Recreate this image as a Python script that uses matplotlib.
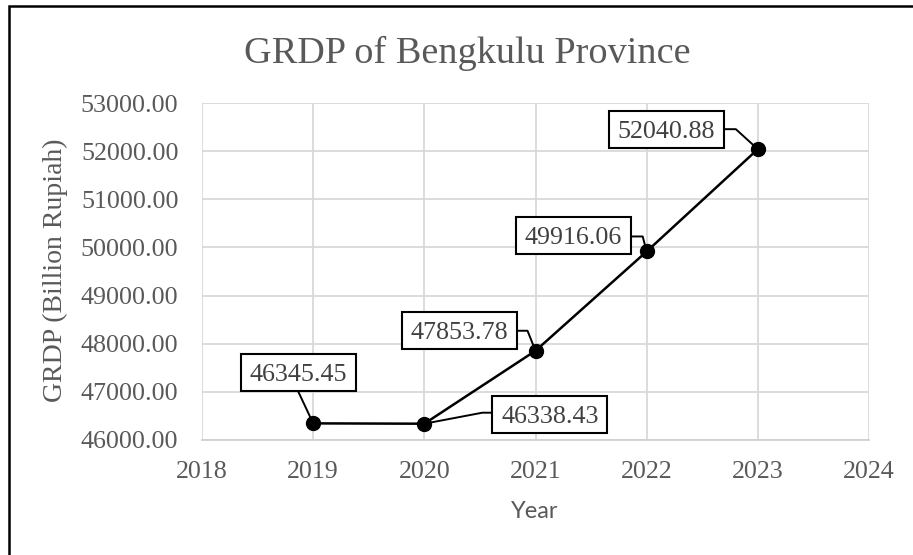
import matplotlib
matplotlib.use("Agg")
import matplotlib.pyplot as plt
from matplotlib.patches import Rectangle
import numpy as np

# ---- data ----
years = [2019, 2020, 2021, 2022, 2023]
grdp = [46345.45, 46338.43, 47853.78, 49916.06, 52040.88]
x_ticks = [2018, 2019, 2020, 2021, 2022, 2023, 2024]
y_ticks = [46000, 47000, 48000, 49000, 50000, 51000, 52000, 53000]
title = "GRDP of Bengkulu Province"
x_label = "Year"
y_label = "GRDP (Billion Rupiah)"

# label box centre offsets (pixels, y up) and leader-line bend points
box_offsets = [(-14.5, 50.5), (125.5, 9), (-76, 20), (-73.5, 15.5), (-91.5, 19.5)]
leader_pts = [
    [(-15, 32)],
    [(68, 11), (58, 11)],
    [(-19, 20), (-8, 20)],
    [(-16, 15), (-4, 15)],
    [(-34, 20), (-22, 20)],
]
BOX_W, BOX_H = 115, 37

SERIF = ["Liberation Serif", "DejaVu Serif"]
GREY = "#595959"

W, H = 913, 555
fig = plt.figure(figsize=(W / 100, H / 100), dpi=100)
ax = fig.add_axes([202 / W, (H - 440) / H, (869 - 202) / W, (440 - 103) / H])

ax.set_xlim(2018, 2024)
ax.set_ylim(46000, 53000)
ax.set_xticks(x_ticks)
ax.set_yticks(y_ticks)
ax.set_xticklabels([str(t) for t in x_ticks])
ax.set_yticklabels([f"{t:.2f}" for t in y_ticks])
for lab in ax.get_xticklabels() + ax.get_yticklabels():
    lab.set_family(SERIF)
    lab.set_fontsize(18.7)
    lab.set_color(GREY)
ax.tick_params(axis="both", length=0)
ax.tick_params(axis="y", pad=17)
ax.tick_params(axis="x", pad=15)

ax.grid(True, color="#d9d9d9", linewidth=1.3)
ax.set_axisbelow(True)
for side in ["top", "right", "left"]:
    ax.spines[side].set_visible(False)
ax.spines["bottom"].set_color("#d0d0d0")
ax.spines["bottom"].set_linewidth(1.3)

ax.plot(years, grdp, color="black", linewidth=1.8, marker="o", markersize=10,
        zorder=3, clip_on=False)

# labels with leader lines
fig.canvas.draw()
to_disp = ax.transData
to_data = ax.transData.inverted()
for (x, y), (bx, by), bends in zip(zip(years, grdp), box_offsets, leader_pts):
    px, py = to_disp.transform((x, y))
    verts = [(px + dx, py + dy) for dx, dy in bends] + [(px, py)]
    dverts = to_data.transform(np.array(verts))
    ax.plot(dverts[:, 0], dverts[:, 1], color="black", linewidth=1.4,
            zorder=2.5, clip_on=False)
    cx, cy = px + bx, py + by
    ll = to_data.transform((cx - BOX_W / 2, cy - BOX_H / 2))
    ur = to_data.transform((cx + BOX_W / 2, cy + BOX_H / 2))
    ax.add_patch(Rectangle(ll, ur[0] - ll[0], ur[1] - ll[1], facecolor="white",
                           edgecolor="black", linewidth=1.5, zorder=4, clip_on=False))
    cd = to_data.transform((cx, cy))
    ax.text(cd[0], cd[1], f"{y:.2f}", ha="center", va="center_baseline",
            family=SERIF, fontsize=18.7, color="#404040", zorder=5, clip_on=False)

fig.text(467 / W, 1 - 63 / H, title, ha="center", va="baseline",
         family=SERIF, fontsize=27.5, color=GREY)
fig.text(55 / W, 1 - 270 / H, y_label, ha="center", va="center", rotation=90,
         family=SERIF, fontsize=20, color=GREY)
fig.text(535 / W, 1 - 511 / H, x_label, ha="center", va="center",
         family=["Lato", "DejaVu Sans"], fontsize=17, color=GREY)

# outer chart border
fig.add_artist(Rectangle((8.5 / W, -0.05), 1.0, 1 - 5.5 / H + 0.05,
                         transform=fig.transFigure, fill=False,
                         edgecolor="black", linewidth=1.8))

fig.savefig("out.png", dpi=100)
